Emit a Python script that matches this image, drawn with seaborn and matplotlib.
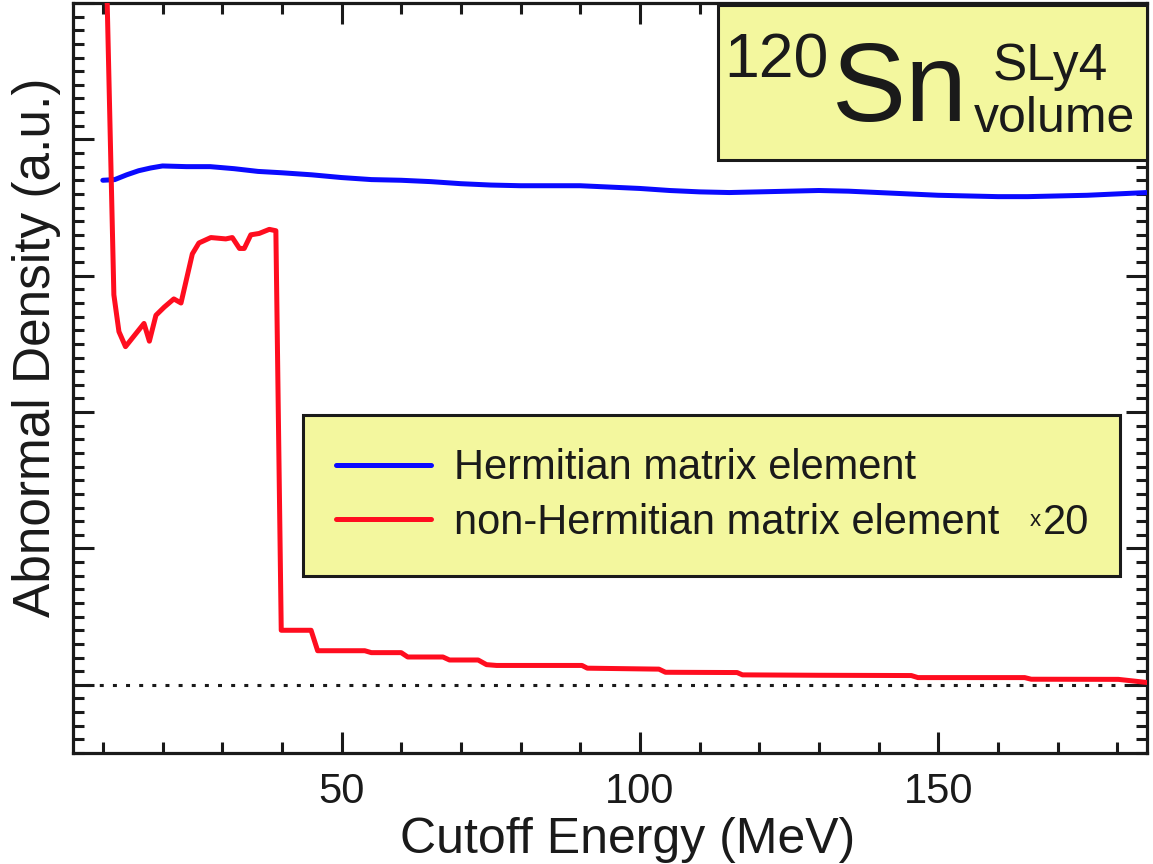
import matplotlib
matplotlib.use("Agg")
import matplotlib.pyplot as plt
import seaborn as sns
from matplotlib.ticker import MultipleLocator
from matplotlib.patches import Rectangle

# Hermitian matrix element: abnormal density vs. cutoff energy (MeV)
cutoff_herm = [10, 12, 14, 16, 18, 20, 24, 28, 32, 36, 40, 45, 50, 55, 60, 65,
               70, 75, 80, 85, 90, 95, 100, 105, 110, 115, 120, 125, 130, 135,
               140, 145, 150, 155, 160, 165, 170, 175, 180, 185]
density_herm = [3.70, 3.705, 3.74, 3.77, 3.79, 3.805, 3.80, 3.80, 3.785, 3.765,
                3.755, 3.74, 3.72, 3.705, 3.70, 3.69, 3.675, 3.665, 3.66, 3.66,
                3.66, 3.65, 3.64, 3.625, 3.615, 3.61, 3.615, 3.62, 3.625, 3.62,
                3.61, 3.60, 3.59, 3.585, 3.58, 3.58, 3.585, 3.59, 3.60, 3.61]

# non-Hermitian matrix element (scaled x20)
cutoff_nonherm = [10, 11.85, 12.7, 13.8, 16.9, 17.8, 18.9, 20.3, 21.9, 23.1,
                  25.0, 26.1, 28.1, 30.6, 31.7, 32.9, 33.7, 34.8, 36.2, 37.9,
                  39.0, 39.9, 44.9, 46.0, 53.9, 55.0, 60.0, 61.1, 67.0, 68.1,
                  72.9, 74.3, 76.0, 90.3, 91.2, 103.2, 104.3, 116.3, 117.2,
                  130.0, 145.5, 146.6, 164.5, 165.6, 180.2, 185.0]
density_nonherm_x20 = [6.4, 2.86, 2.59, 2.48, 2.65, 2.52, 2.71, 2.77, 2.83, 2.80,
                       3.16, 3.24, 3.28, 3.27, 3.28, 3.20, 3.20, 3.30, 3.31, 3.34,
                       3.33, 0.40, 0.40, 0.25, 0.25, 0.236, 0.236, 0.204, 0.204,
                       0.182, 0.182, 0.148, 0.142, 0.142, 0.122, 0.115, 0.092,
                       0.090, 0.073, 0.070, 0.068, 0.053, 0.053, 0.041, 0.040,
                       0.017]
scale_factor = "20"

BLUE = "#0a0aff"
RED = "#ff0d1f"
YELLOW = "#f3f79e"

sns.set_theme(style="ticks")
plt.rcParams["font.family"] = ["Liberation Sans", "DejaVu Sans"]
plt.rcParams["text.color"] = "k"
plt.rcParams["axes.labelcolor"] = "k"

W, H = 1153, 864
fig = plt.figure(figsize=(W / 100, H / 100), dpi=100)
ax = fig.add_axes([73 / W, 1 - 753 / H, (1147 - 73) / W, (753 - 3) / H])

ax.axhline(0, color="k", lw=2.2, dashes=(1.3, 3.0), zorder=1)
sns.lineplot(x=cutoff_herm, y=density_herm, ax=ax, color=BLUE, linewidth=3.6,
             label="Hermitian matrix element", zorder=3)
sns.lineplot(x=cutoff_nonherm, y=density_nonherm_x20, ax=ax, color=RED,
             linewidth=3.6, label="non-Hermitian matrix element", zorder=3)

ax.set_xlim(5, 185)
ax.set_ylim(-0.5, 5)
ax.xaxis.set_major_locator(MultipleLocator(50))
ax.xaxis.set_minor_locator(MultipleLocator(10))
ax.yaxis.set_major_locator(MultipleLocator(1))
ax.yaxis.set_minor_locator(MultipleLocator(0.1))
ax.tick_params(which="both", direction="in", top=True, right=True,
               labelleft=False, width=2.2, color="k", labelcolor="k")
ax.tick_params(which="major", length=15, labelsize=30, pad=14)
ax.tick_params(which="minor", length=8)
for s in ax.spines.values():
    s.set_linewidth(2.3)
    s.set_color("k")

ax.set_xlabel("Cutoff Energy (MeV)", fontsize=36, va="baseline", color="k")
ax.xaxis.set_label_coords(0.516, -(853 - 753) / 750)
ax.set_ylabel("Abnormal Density (a.u.)", fontsize=37, va="baseline", color="k")
ax.yaxis.set_label_coords((50 - 73) / 1074, (753 - 347) / 750)

# legend box stretched to a fixed width so the scale factor fits inside
leg_x0 = (303 - 73) / 1074
leg_w = (1120 - 303) / 1074
leg = ax.legend(loc="lower left",
                bbox_to_anchor=(leg_x0, (753 - 576) / 750, leg_w, 0),
                mode="expand", borderaxespad=0, fontsize=30, frameon=True,
                fancybox=False, framealpha=1, facecolor=YELLOW, edgecolor="k",
                handlelength=2.28, handletextpad=0.55, labelspacing=0.35,
                borderpad=0.8)
leg.get_frame().set_linewidth(2.2)
for t in leg.get_texts():
    t.set_color("k")

# "x20" scale factor after the non-Hermitian label (small raised x)
red_label = leg.get_texts()[1]
ax.annotate(scale_factor, xy=(1, 0), xycoords=red_label,
            xytext=(31, 0), textcoords="offset points",
            ha="left", va="bottom", fontsize=30, color="k", zorder=7,
            annotation_clip=False)
ax.annotate("x", xy=(1, 0), xycoords=red_label,
            xytext=(25.5, 12), textcoords="offset points",
            ha="center", va="baseline", fontsize=16, color="k", zorder=7,
            annotation_clip=False)

# nucleus / interaction label box
fig.add_artist(Rectangle((718 / W, 1 - 160 / H), (1147 - 718) / W, (160 - 5) / H,
                         transform=fig.transFigure, facecolor=YELLOW,
                         edgecolor="k", linewidth=2.2, zorder=5))
fig.text(724 / W, 1 - 78 / H, "120", fontsize=45, va="baseline", ha="left",
         color="k", zorder=6)
fig.text(832 / W, 1 - 121 / H, "Sn", fontsize=80, va="baseline", ha="left",
         color="k", zorder=6)
fig.text(993 / W, 1 - 80 / H, "SLy4", fontsize=37, va="baseline", ha="left",
         color="k", zorder=6)
fig.text(974 / W, 1 - 132 / H, "volume", fontsize=36, va="baseline", ha="left",
         color="k", zorder=6)

fig.savefig("out.png", dpi=100)
